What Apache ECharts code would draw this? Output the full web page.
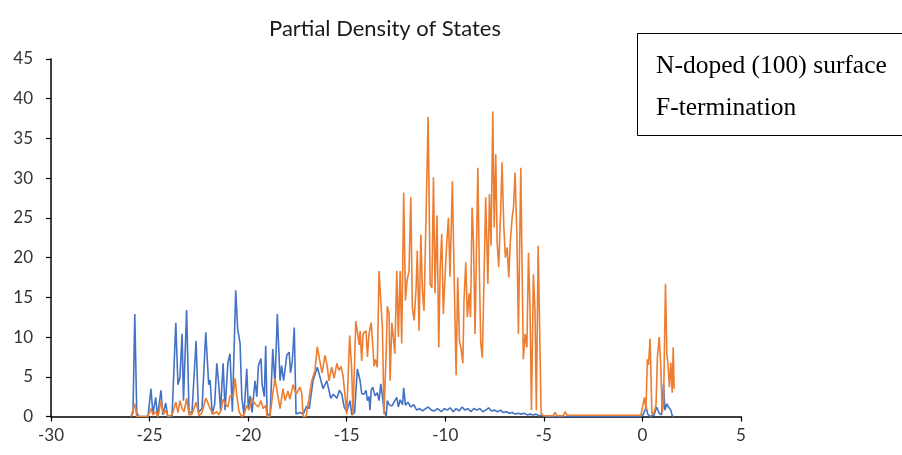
<!DOCTYPE html>
<html>
<head>
<meta charset="utf-8">
<script src="https://cdn.jsdelivr.net/npm/echarts@6/dist/echarts.min.js"></script>
<style>
  html, body { margin: 0; padding: 0; background: #fff; }
  #pdos { width: 902px; height: 455px; }
</style>
</head>
<body>
<div id="pdos"></div>
<script>
// energies (eV) and density values
var blueE = [-25.94, -25.84, -25.75, -25.65, -25.55, -25.08, -24.93, -24.83, -24.69, -24.60, -24.42, -24.33, -24.18, -24.08,
  -23.86, -23.67, -23.56, -23.46, -23.35, -23.28, -23.12, -23.00, -22.85, -22.64, -22.52, -22.34, -22.15, -22.09, -22.00,
  -21.93, -21.82, -21.70, -21.59, -21.49, -21.40, -21.27, -21.17, -21.03, -20.92, -20.80, -20.63, -20.53, -20.41, -20.32,
  -20.21, -20.07, -19.99, -19.90, -19.80, -19.65, -19.56, -19.48, -19.35, -19.29, -19.18, -19.11, -19.04, -18.89, -18.75,
  -18.64, -18.52, -18.38, -18.30, -18.20, -18.04, -17.92, -17.85, -17.76, -17.66, -17.57, -17.37, -17.21, -17.03, -16.90,
  -16.71, -16.49, -16.38, -16.20, -16.01, -15.81, -15.68, -15.50, -15.37, -15.25, -15.13, -15.00, -14.83, -14.74, -14.60,
  -14.46, -14.32, -14.24, -14.12, -14.02, -13.95, -13.87, -13.82, -13.76, -13.68, -13.56, -13.45, -13.36, -13.27, -13.19,
  -13.11, -13.00, -12.94, -12.85, -12.71, -12.56, -12.46, -12.38, -12.29, -12.17, -12.11, -12.02, -11.90, -11.75, -11.60,
  -11.45, -11.30, -11.15, -11.00, -10.87, -10.70, -10.55, -10.40, -10.20, -10.05, -9.90, -9.75, -9.60, -9.45, -9.30, -9.15,
  -9.00, -8.85, -8.70, -8.55, -8.40, -8.25, -8.10, -7.95, -7.80, -7.65, -7.50, -7.35, -7.20, -7.05, -6.90, -6.75, -6.60,
  -6.45, -6.30, -6.15, -6.00, -5.85, -5.70, -5.55, -5.40, -5.25, -5.10, -4.95, -0.05, 0.05, 0.19, 0.27, 0.39, 0.59, 0.72,
  0.85, 0.97, 1.07, 1.14, 1.24, 1.32, 1.44, 1.51, 1.56];
var blueV = [0, 0.5, 12.9, 0.5, 0, 0, 3.5, 0.3, 2.4, 0, 3.3, 0.2, 1.7, 0,
  0, 11.8, 4.0, 4.9, 10.4, 2.0, 13.4, 0.5, 0.5, 9.5, 0.5, 1.0, 10.6, 10.4, 4.0,
  4.6, 0.3, 1.5, 6.7, 4.0, 0.8, 6.7, 0.8, 6.7, 7.9, 0.6, 15.9, 11.0, 9.2, 2.4,
  0.2, 6.0, 1.0, 2.6, 0.5, 4.5, 2.5, 6.4, 7.3, 4.0, 2.5, 8.9, 0.4, 0, 8.5,
  4.0, 12.9, 4.5, 6.4, 4.5, 7.7, 8.1, 5.5, 7.0, 11.2, 0.3, 0.5, 0.3, 1.3, 1.0,
  4.5, 6.2, 5.2, 3.5, 4.5, 2.3, 2.8, 2.3, 3.3, 2.8, 1.2, 0.6, 2.0, 0.2, 0.5,
  6.0, 4.5, 2.9, 2.8, 3.3, 2.0, 2.5, 0.8, 3.3, 3.7, 2.6, 3.0, 2.0, 4.1, 2.6,
  0.8, 0, 2.0, 1.5, 1.3, 2.0, 2.4, 1.2, 2.1, 1.5, 3.6, 1.4, 1.8, 1.2, 1.5,
  0.8, 1.0, 0.7, 1.0, 1.2, 0.8, 0.7, 1.0, 0.6, 1.0, 0.8, 1.1, 0.6, 1.0, 0.7, 1.2,
  0.8, 1.0, 0.6, 1.0, 0.8, 1.0, 0.6, 0.8, 1.1, 0.7, 0.8, 0.6, 0.8, 0.5, 0.6, 0.4, 0.5,
  0.3, 0.4, 0.3, 0.4, 0.2, 0.3, 0.2, 0.3, 0.1, 0.2, 0, 0, 0.3, 1.2, 0.3, 0, 0.2, 1.2,
  0.4, 0.2, 4.1, 0.8, 1.6, 1.2, 0.8, 0.1, 0];

var orangeE = [-25.94, -25.84, -25.75, -25.65, -25.08, -24.93, -24.83, -24.69, -24.57, -24.42, -24.29, -24.18, -24.06,
  -23.86, -23.67, -23.56, -23.46, -23.35, -23.25, -23.12, -23.00, -22.85, -22.64, -22.49, -22.34, -22.15, -22.09, -21.93,
  -21.78, -21.59, -21.49, -21.37, -21.27, -21.17, -21.03, -20.92, -20.75, -20.66, -20.56, -20.46, -20.32, -20.21, -20.07,
  -19.95, -19.82, -19.65, -19.48, -19.35, -19.24, -19.11, -19.04, -18.89, -18.75, -18.64, -18.52, -18.38, -18.23, -18.13,
  -17.98, -17.88, -17.72, -17.57, -17.37, -17.28, -17.21, -17.06, -16.96, -16.77, -16.61, -16.49, -16.38, -16.25, -16.10,
  -16.00, -15.90, -15.76, -15.64, -15.50, -15.39, -15.29, -15.19, -15.08, -15.00, -14.93, -14.85, -14.75, -14.68, -14.54,
  -14.45, -14.37, -14.32, -14.24, -14.17, -14.02, -13.95, -13.87, -13.76, -13.68, -13.61, -13.54, -13.45, -13.36, -13.27,
  -13.19, -13.11, -13.00, -12.94, -12.85, -12.80, -12.71, -12.65, -12.56, -12.46, -12.38, -12.29, -12.21, -12.11, -12.02,
  -11.94, -11.84, -11.75, -11.67, -11.58, -11.48, -11.42, -11.33, -11.24, -11.16, -11.08, -10.97, -10.87, -10.77, -10.68,
  -10.60, -10.52, -10.42, -10.33, -10.26, -10.18, -10.10, -10.01, -9.92, -9.84, -9.76, -9.64, -9.55, -9.45, -9.37, -9.28,
  -9.21, -9.11, -9.05, -8.96, -8.88, -8.79, -8.72, -8.64, -8.57, -8.49, -8.41, -8.35, -8.27, -8.20, -8.12, -8.03, -7.95,
  -7.84, -7.76, -7.68, -7.59, -7.52, -7.44, -7.37, -7.29, -7.19, -7.12, -7.03, -6.95, -6.86, -6.78, -6.70, -6.61, -6.54,
  -6.46, -6.37, -6.29, -6.17, -6.10, -6.04, -5.95, -5.86, -5.78, -5.70, -5.63, -5.53, -5.45, -5.38, -5.29, -5.23, -5.14,
  -5.05, -4.53, -4.43, -4.33, -4.02, -3.92, -3.82, -0.08, 0.00, 0.10, 0.18, 0.25, 0.31, 0.39, 0.48, 0.59, 0.69, 0.76,
  0.85, 0.93, 1.00, 1.07, 1.17, 1.24, 1.30, 1.37, 1.44, 1.51, 1.56, 1.61];
var orangeV = [0, 0, 1.6, 0, 0, 1.0, 0.2, 0.6, 0, 2.0, 0.3, 0.8, 0,
  0.2, 1.8, 0.5, 2.0, 1.0, 0.6, 2.3, 0.2, 0.3, 1.8, 0.1, 0.5, 2.3, 2.0, 1.0,
  0.3, 0.6, 0.2, 0.8, 2.2, 1.6, 1.2, 2.6, 2.6, 4.8, 2.3, 0.6, 0, 0.2, 1.4,
  0.8, 2.3, 1.6, 1.2, 2.0, 1.0, 1.4, 0, 0, 2.9, 4.8, 3.0, 1.0, 3.5, 2.0,
  3.2, 2.2, 4.0, 2.8, 3.7, 2.9, 0, 0, 1.6, 4.5, 5.8, 8.8, 7.2, 5.5, 7.7,
  6.5, 4.5, 6.2, 4.8, 6.7, 5.8, 6.3, 5.2, 2.5, 0.3, 0.3, 10.2, 6.0, 0.2, 12.0,
  10.5, 9.0, 10.8, 7.0, 10.4, 10.8, 7.5, 10.4, 11.8, 9.0, 6.3, 7.2, 6.2, 18.3, 14.5,
  11.2, 0.3, 7.9, 13.9, 12.9, 4.5, 11.8, 10.4, 7.9, 18.3, 10.0, 18.3, 9.2, 28.2, 14.6,
  17.1, 18.3, 27.6, 13.7, 12.1, 16.2, 20.9, 10.8, 22.9, 15.8, 13.3, 25.9, 37.7, 16.7, 16.2,
  30.1, 15.5, 25.3, 8.7, 18.6, 23.0, 12.9, 17.8, 22.1, 25.0, 17.6, 29.6, 17.6, 5.2, 17.5, 9.5,
  8.7, 6.7, 14.6, 19.4, 12.5, 15.5, 12.5, 26.3, 22.1, 10.4, 22.1, 31.3, 18.0, 9.2, 7.4, 18.0, 27.6,
  16.7, 28.0, 21.5, 38.4, 23.8, 33.0, 21.9, 18.8, 25.9, 32.0, 23.8, 20.0, 21.3, 17.5, 22.1, 25.0, 26.3,
  30.7, 23.0, 10.4, 31.3, 18.0, 7.2, 10.4, 8.7, 20.6, 13.5, 0.8, 17.9, 13.3, 0.8, 21.5, 13.3, 0.5,
  0.1, 0.1, 0.5, 0.1, 0.1, 0.6, 0.15, 0.15, 0.3, 2.4, 0.8, 7.2, 6.5, 9.8, 0.3, 0.5, 1.5, 7.5,
  10.0, 6.5, 0.5, 1.5, 16.7, 7.9, 6.5, 3.7, 6.8, 3.0, 8.7, 3.5];

function pairs (xs, ys) {
  var out = []
  for (var i = 0; i < xs.length; i++) {
    out.push([xs[i], ys[i]])
  }
  return out
}

var myChart = echarts.init(document.getElementById('pdos'), null, { renderer: 'canvas' })

var labelStyle = {
  color: '#333',
  fontFamily: 'Lato',
  fontSize: 17
}

myChart.setOption({
  animation: false,
  backgroundColor: '#fff',
  title: {
    text: 'Partial Density of States',
    left: 380,
    top: 13,
    textAlign: 'center',
    textStyle: {
      color: '#1a1a1a',
      fontFamily: 'Lato',
      fontSize: 22,
      fontWeight: 'normal'
    }
  },
  grid: {
    left: 51,
    right: 161,
    top: 59,
    bottom: 38.5
  },
  xAxis: {
    type: 'value',
    min: -30,
    max: 5,
    interval: 5,
    axisLine: { show: true, onZero: false, lineStyle: { color: '#000', width: 1.5 } },
    axisTick: { show: true, inside: false, length: 5, lineStyle: { color: '#000', width: 1.2 } },
    axisLabel: Object.assign({ margin: 11 }, labelStyle),
    splitLine: { show: false }
  },
  yAxis: {
    type: 'value',
    min: 0,
    max: 45,
    interval: 5,
    axisLine: { show: true, onZero: false, lineStyle: { color: '#000', width: 1.5 } },
    axisTick: { show: true, inside: false, length: 5, lineStyle: { color: '#000', width: 1.2 } },
    axisLabel: Object.assign({ margin: 18 }, labelStyle),
    splitLine: { show: false }
  },
  series: [
    {
      name: 'blue',
      type: 'line',
      showSymbol: false,
      symbol: 'none',
      data: pairs(blueE, blueV),
      lineStyle: { color: '#4472C4', width: 1.6 },
      itemStyle: { color: '#4472C4' },
      z: 3
    },
    {
      name: 'orange',
      type: 'line',
      showSymbol: false,
      symbol: 'none',
      data: pairs(orangeE, orangeV),
      lineStyle: { color: '#ED7D31', width: 1.6 },
      itemStyle: { color: '#ED7D31' },
      z: 4
    }
  ],
  graphic: [
    {
      type: 'rect',
      left: 637,
      top: 33,
      shape: { width: 272, height: 102 },
      style: { fill: '#fff', stroke: '#000', lineWidth: 1 },
      z: 10
    },
    {
      type: 'text',
      left: 656,
      top: 53,
      style: {
        text: 'N-doped (100) surface',
        fill: '#000',
        font: '25.5px "Liberation Serif"'
      },
      z: 11
    },
    {
      type: 'text',
      left: 656,
      top: 95,
      style: {
        text: 'F-termination',
        fill: '#000',
        font: '25.5px "Liberation Serif"'
      },
      z: 11
    }
  ]
})
</script>
</body>
</html>
